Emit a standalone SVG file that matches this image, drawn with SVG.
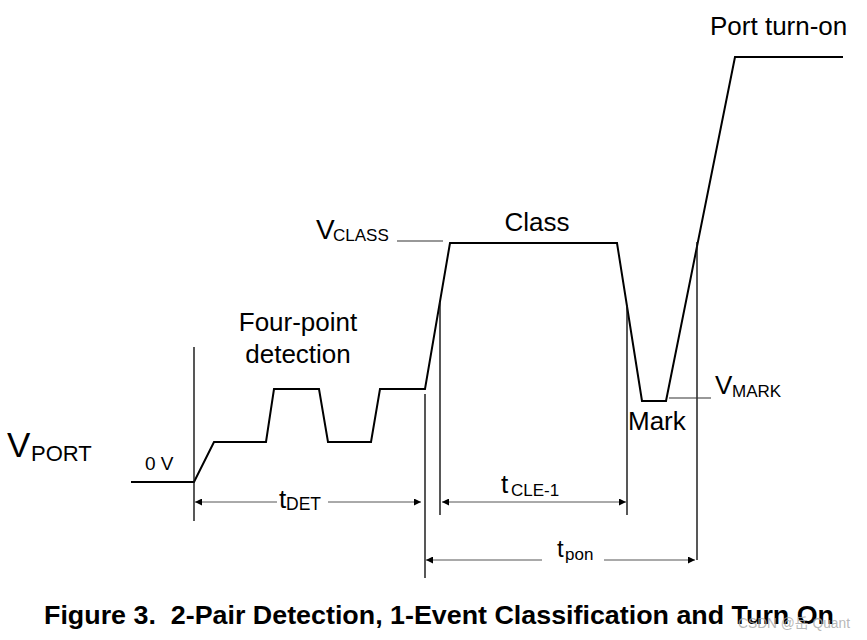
<svg xmlns="http://www.w3.org/2000/svg" width="867" height="640" viewBox="0 0 867 640">
<style>
.wave{fill:none;stroke:#000;stroke-width:2;stroke-linejoin:miter}
.vl{stroke:#111;stroke-width:1.4;fill:none}
.dim{stroke:#555;stroke-width:1;fill:none}
.ref{stroke:#333;stroke-width:1.2;fill:none}
.t{font-family:"Liberation Sans",Arial,sans-serif;fill:#000}
.cap{font-family:"Liberation Sans",Arial,sans-serif;font-weight:bold;fill:#000}
</style>
<defs>
<marker id="ah" viewBox="0 0 10 10" refX="10" refY="5" markerWidth="9" markerHeight="7" markerUnits="userSpaceOnUse" orient="auto-start-reverse">
<path d="M0,0 L10,5 L0,10 z" fill="#000"/>
</marker>
</defs>
<rect width="867" height="640" fill="#fff"/>

<g id="waveform">
<polyline class="wave" points="131,482 194,482 214,442 266,442 274,389 319,389 328,442 371,442 380,389 425,389 450,243 617,243 642,401 666,401 735,57 843,57"/>
</g>

<g id="connectors">
<line class="vl" x1="194" y1="347" x2="194" y2="521"/>
<line class="vl" x1="425" y1="394" x2="425" y2="578"/>
<line class="vl" x1="440" y1="302" x2="440" y2="515"/>
<line class="vl" x1="627" y1="305" x2="627" y2="515"/>
<line class="vl" x1="697" y1="242" x2="697" y2="560"/>
<line class="ref" x1="397" y1="241" x2="443" y2="241"/>
<line class="ref" x1="669" y1="398" x2="711" y2="398"/>
<line class="dim" x1="277" y1="502" x2="195" y2="502" marker-end="url(#ah)"/>
<line class="dim" x1="328" y1="502" x2="421" y2="502" marker-end="url(#ah)"/>
<line class="dim" x1="442" y1="502" x2="626" y2="502" marker-start="url(#ah)" marker-end="url(#ah)"/>
<line class="dim" x1="542" y1="560" x2="426" y2="560" marker-end="url(#ah)"/>
<line class="dim" x1="604" y1="560" x2="695" y2="560" marker-end="url(#ah)"/>
</g>

<g id="label-vport"><text class="t" x="7" y="457" font-size="35">V<tspan x="31" y="461" font-size="22">PORT</tspan></text></g>
<g id="label-0v"><text class="t" x="145" y="470" font-size="19">0 V</text></g>
<g id="label-fourpoint">
<text class="t" x="298" y="331" font-size="26" text-anchor="middle">Four-point</text>
<text class="t" x="298" y="363" font-size="26" text-anchor="middle">detection</text>
</g>
<g id="label-vclass"><text class="t" x="316" y="239" font-size="28">V<tspan x="333" y="241" font-size="17">CLASS</tspan></text></g>
<g id="label-class"><text class="t" x="537" y="231" font-size="26" text-anchor="middle">Class</text></g>
<g id="label-mark"><text class="t" x="628" y="430" font-size="26">Mark</text></g>
<g id="label-vmark"><text class="t" x="715" y="394" font-size="26">V<tspan x="732" y="397" font-size="17">MARK</tspan></text></g>
<g id="label-portturnon"><text class="t" x="710" y="35" font-size="26">Port turn-on</text></g>
<g id="label-tdet"><text class="t" x="279" y="508" font-size="26">t<tspan x="286" y="510" font-size="17.5">DET</tspan></text></g>
<g id="label-tcle"><text class="t" x="501" y="493" font-size="26">t<tspan x="511" y="496" font-size="17">CLE-1</tspan></text></g>
<g id="label-tpon"><text class="t" x="557" y="557" font-size="24">t<tspan x="565" y="560" font-size="17">pon</tspan></text></g>

<g id="caption"><text class="cap" x="44" y="624" font-size="25" textLength="790" lengthAdjust="spacingAndGlyphs" xml:space="preserve">Figure 3.  2-Pair Detection, 1-Event Classification and Turn On</text></g>
<g id="watermark"><text x="738" y="628" font-size="14" textLength="112" lengthAdjust="spacingAndGlyphs" fill="#aaa" fill-opacity="0.85" font-family="'Liberation Sans','Noto Sans CJK SC',sans-serif">CSDN @岳 Quant</text></g>
</svg>
